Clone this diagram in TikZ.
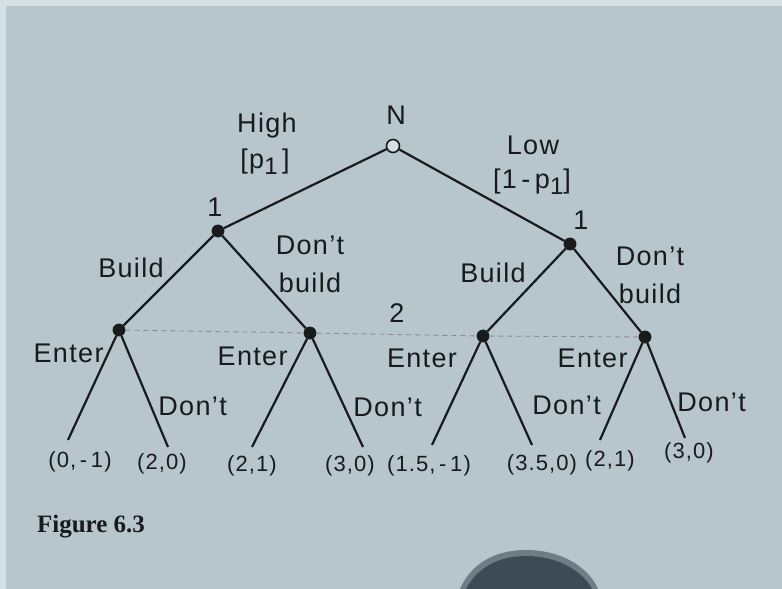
\documentclass[tikz,border=0pt]{standalone}
\usepackage{fontspec}
\setmainfont{Liberation Sans}
\newfontfamily\labfont{Liberation Sans}[LetterSpace=5]
\newfontfamily\payfont{Liberation Sans}[LetterSpace=5]
\newfontfamily\capfont{Liberation Serif}
\definecolor{paper}{RGB}{182,198,204}
\definecolor{paperedge}{RGB}{214,224,228}
\definecolor{ink}{RGB}{24,26,28}
\definecolor{blobc}{RGB}{62,74,84}
\newcommand{\subone}{\raisebox{-0.45ex}{\fontsize{12}{13}\selectfont 1}}
\begin{document}
\begin{tikzpicture}[x=0.5pt,y=-0.5pt,
  lab/.style={text=ink,inner sep=0pt,font=\labfont\fontsize{13.5}{15}\selectfont},
  pay/.style={text=ink,inner sep=0pt,font=\payfont\fontsize{11}{13}\selectfont},
  edge/.style={draw=ink,line width=1.1pt},
  dec/.style={circle,fill=ink,draw=ink,minimum size=6pt,inner sep=0pt},
  chance/.style={circle,fill=paperedge,draw=ink,line width=0.8pt,minimum size=6.5pt,inner sep=0pt},
  info/.style={draw=ink!50,line width=0.45pt,dash pattern=on 2.5pt off 2pt}]
\useasboundingbox (0,0) rectangle (782,589);
\fill[paperedge] (0,0) rectangle (782,589);
\fill[paper] (6,6) rectangle (782,589);
\fill[blobc!60!paper] (460,589) .. controls (470,566) and (492,550) .. (526,550) .. controls (560,550) and (588,566) .. (598,589) -- cycle;
\fill[blobc] (466,589) .. controls (476,570) and (496,556) .. (526,556) .. controls (556,556) and (582,570) .. (592,589) -- cycle;
% decision nodes
\node[chance] (n) at (393,146) {};
\node[dec] (a) at (218,231) {};
\node[dec] (b) at (570,244) {};
\node[dec] (c1) at (119,330) {};
\node[dec] (c2) at (310,333) {};
\node[dec] (c3) at (483,336) {};
\node[dec] (c4) at (645,337) {};
% leaves
\coordinate (l1) at (68,440);
\coordinate (l2) at (168,447);
\coordinate (l3) at (252,447);
\coordinate (l4) at (363,447);
\coordinate (l5) at (432,445);
\coordinate (l6) at (532,445);
\coordinate (l7) at (600,440);
\coordinate (l8) at (685,438);
% information set
\draw[info] (c1) -- (c2) -- (c3) -- (c4);
% edges
\draw[edge] (n) -- (a);
\draw[edge] (n) -- (b);
\draw[edge] (a) -- (c1);
\draw[edge] (a) -- (c2);
\draw[edge] (b) -- (c3);
\draw[edge] (b) -- (c4);
\draw[edge] (c1) -- (l1);
\draw[edge] (c1) -- (l2);
\draw[edge] (c2) -- (l3);
\draw[edge] (c2) -- (l4);
\draw[edge] (c3) -- (l5);
\draw[edge] (c3) -- (l6);
\draw[edge] (c4) -- (l7);
\draw[edge] (c4) -- (l8);
% player labels
\node[lab] (tN) at (396,115) {N};
\node[lab] (t1a) at (215,207) {1};
\node[lab] (t1b) at (581,220) {1};
\node[lab] (t2) at (397,313) {2};
% move labels
\node[lab] (hi) at (267,126) {High};
\node[lab] (hip) at (265,162) {[p\subone\,]};
\node[lab] (lo) at (533,145) {Low};
\node[lab] (lop) at (532,182) {[1\,-\,p\subone]};
\node[lab] (bl) at (131,268) {Build};
\node[lab,align=center] (dbl) at (310,264) {Don’t\\[4pt]build};
\node[lab] (br) at (493,273) {Build};
\node[lab,align=center] (dbr) at (650,275) {Don’t\\[4pt]build};
\node[lab,anchor=east] (e1) at (104,353) {Enter};
\node[lab,anchor=east] (e2) at (288,356) {Enter};
\node[lab] (e3) at (422,358) {Enter};
\node[lab,anchor=east] (e4) at (628,358) {Enter};
\node[lab,anchor=west] (d1) at (158,406) {Don’t};
\node[lab,anchor=west] (d2) at (353,407) {Don’t};
\node[lab,anchor=west] (d3) at (532,405) {Don’t};
\node[lab,anchor=west] (d4) at (677,402) {Don’t};
% payoffs
\node[pay] (p1) at (80,462) {(0,\,-\,1)};
\node[pay] (p2) at (162,464) {(2,0)};
\node[pay] (p3) at (252,466) {(2,1)};
\node[pay] (p4) at (350,466) {(3,0)};
\node[pay] (p5) at (429,466) {(1.5,\,-\,1)};
\node[pay] (p6) at (542,465) {(3.5,0)};
\node[pay] (p7) at (610,461) {(2,1)};
\node[pay] (p8) at (689,453) {(3,0)};
% caption
\node[text=ink,inner sep=0pt,font=\capfont\bfseries\fontsize{12.5}{14}\selectfont] (cap) at (91,527) {Figure 6.3};
\end{tikzpicture}
\end{document}
